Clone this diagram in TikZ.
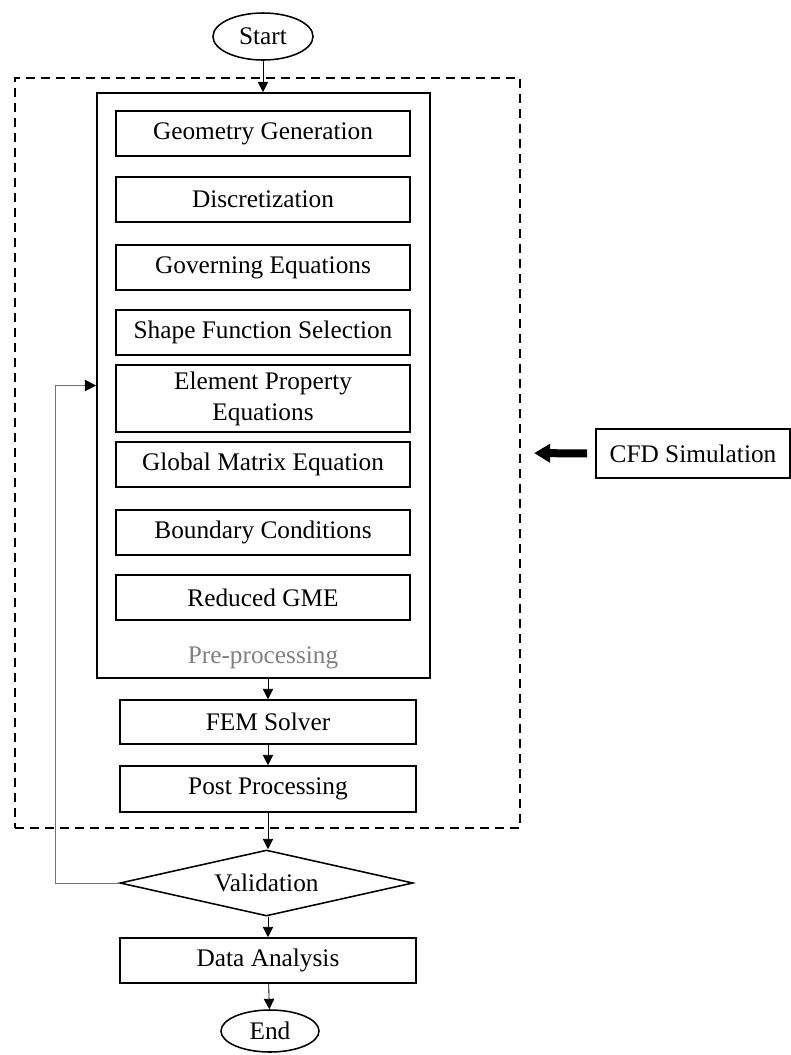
\documentclass[tikz,border=0pt]{standalone}
\usepackage{fontspec}
\setmainfont{Liberation Serif}
\usepackage{xcolor}
\usetikzlibrary{arrows.meta,positioning,shapes.geometric,calc}

\begin{document}
\begin{tikzpicture}[x=0.025cm, y=-0.025cm,
  stepbox/.style={draw, line width=1.1pt, align=center, font=\fontsize{18}{22}\selectfont, minimum width=7.35cm, minimum height=1.125cm, inner sep=2pt},
  mainbox/.style={stepbox, minimum width=7.4cm},
  term/.style={draw, ellipse, line width=1.1pt, font=\fontsize{18}{22}\selectfont, inner sep=0pt},
  arr/.style={-{Triangle[length=2.6mm,width=2.6mm]}, line width=0.6pt},
  fb/.style={-{Triangle[length=2.8mm,width=2.8mm,color=black]}, line width=0.7pt, draw=black!55},
  bigarr/.style={-{Triangle[length=0.4cm,width=0.45cm]}, line width=0.2cm}]
\useasboundingbox (0,0) rectangle (791,1055);
% simulation frame
\node[draw, dash pattern=on 0.225cm off 0.15cm, line width=1.2pt, minimum width=12.625cm, minimum height=18.75cm] (sim) at (267.5,453) {};
\node[term, minimum width=2.5cm, minimum height=1.175cm] (start) at (263,36.5) {Start};
\node[draw, line width=1.1pt, minimum width=8.325cm, minimum height=14.625cm] (pre) at (263.5,385.5) {};
% pre-processing steps
\node[stepbox] (geo) at (263,133.5) {Geometry Generation};
\node[stepbox] (disc) at (263,199.5) {Discretization};
\node[stepbox] (gov) at (263,267.5) {Governing Equations};
\node[stepbox] (shape) at (263,332.5) {Shape Function Selection};
\node[stepbox, minimum height=1.675cm] (elem) at (263,398.5) {Element Property\\Equations};
\node[stepbox] (gme) at (263,464.5) {Global Matrix Equation};
\node[stepbox] (bc) at (263,532.5) {Boundary Conditions};
\node[stepbox] (rgme) at (263,597.5) {Reduced GME};
\node[font=\fontsize{18}{22}\selectfont, text=black!50] (prelbl) at (263,658) {Pre-processing};
% solver and post
\node[mainbox, minimum height=1.1cm] (fem) at (268,722) {FEM Solver};
\node[mainbox, minimum height=1.15cm] (post) at (268,789) {Post Processing};
\node[draw, diamond, aspect=4.44, inner sep=0pt, minimum width=7.325cm, minimum height=1.65cm, line width=1.1pt, font=\fontsize{18}{22}\selectfont] (val) at (266.5,883) {Validation};
\node[mainbox] (data) at (268,960.5) {Data Analysis};
\node[term, minimum width=2.45cm, minimum height=1.05cm] (end) at (270,1031) {End};
\node[stepbox, minimum width=4.85cm, minimum height=1.225cm] (cfd) at (693,453.5) {CFD Simulation};
\coordinate (loop) at (55,883);
\draw[arr] (start) -- (start |- pre.north);
\draw[arr] (pre.south -| fem) -- (fem);
\draw[arr] (fem) -- (post);
\draw[arr] (post) -- (post |- val.north);
\draw[arr] (val.south -| data) -- (data);
\draw[arr] (data) -- (end);
\draw[fb] (val.west) -- (loop) |- (pre.west);
\draw[bigarr, shorten <=0.2cm, shorten >=0.33cm] (cfd.west) -- (sim.east);
\end{tikzpicture}
\end{document}
